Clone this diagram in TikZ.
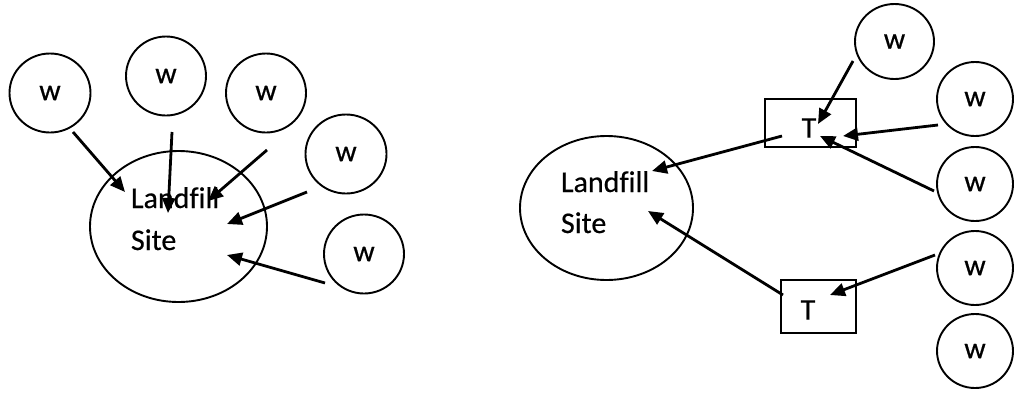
\documentclass[tikz,border=0pt]{standalone}
\usepackage{fontspec}
\setmainfont{Carlito}[Ligatures=NoCommon, FakeBold=0.5]
\usetikzlibrary{shapes.geometric,arrows.meta,calc}

\tikzset{
  every node/.style={font=\fontsize{30}{36}\selectfont, inner sep=0pt, outer sep=0pt},
  wcircle/.style={draw, ellipse, line width=1.9pt},
  siteoval/.style={draw, ellipse, line width=1.9pt},
  tbox/.style={draw, rectangle, line width=1.9pt},
  lbl/.style={anchor=base west},
  flow/.style={line width=2.8pt, -{Triangle[length=15pt,width=13pt]}}
}

\begin{document}
\begin{tikzpicture}[x=1pt, y=-1pt]
\useasboundingbox (0,0) rectangle (1014,394);

% ---- direct delivery: every source goes straight to the landfill ----
\node[siteoval, minimum width=177pt, minimum height=151pt] (siteA) at (178.5,226.5) {};
\node[lbl] (siteAl1) at (131,208) {Landfill};
\node[lbl] (siteAl2) at (131,250) {Site};

\node[wcircle, minimum width=81pt, minimum height=79pt] (wa1) at (50,93) {w};
\node[wcircle, minimum width=80pt, minimum height=79pt] (wa2) at (166,76) {w};
\node[wcircle, minimum width=80pt, minimum height=79pt] (wa3) at (266,93) {w};
\node[wcircle, minimum width=81pt, minimum height=79pt] (wa4) at (346,154) {w};
\node[wcircle, minimum width=80pt, minimum height=79pt] (wa5) at (364,254) {w};

\coordinate (pa1s) at ($(wa1)+(23,39)$);   \coordinate (pa1e) at ($(siteA)+(-53.5,-34.5)$);
\coordinate (pa2s) at ($(wa2)+(6,56)$);    \coordinate (pa2e) at ($(siteA)+(-10.5,-13.5)$);
\coordinate (pa3s) at ($(wa3)+(1,57)$);    \coordinate (pa3e) at ($(siteA)+(29.5,-25.5)$);
\coordinate (pa4s) at ($(wa4)+(-39,38)$);  \coordinate (pa4e) at ($(siteA)+(48.5,-2.5)$);
\coordinate (pa5s) at ($(wa5)+(-39,29)$);  \coordinate (pa5e) at ($(siteA)+(48.5,28.5)$);

\draw[flow] (pa1s) -- (pa1e);
\draw[flow] (pa2s) -- (pa2e);
\draw[flow] (pa3s) -- (pa3e);
\draw[flow] (pa4s) -- (pa4e);
\draw[flow] (pa5s) -- (pa5e);

% ---- delivery through transfer stations ----
\node[siteoval, minimum width=173pt, minimum height=144pt] (siteB) at (606.5,208) {};
\node[lbl] (siteBl1) at (561,192) {Landfill};
\node[lbl] (siteBl2) at (561,233) {Site};

\node[tbox, minimum width=91pt, minimum height=48pt] (t1) at (810.5,123) {};
\node (t1l) at (809,128) {T};
\node[tbox, minimum width=75pt, minimum height=53pt] (t2) at (818.5,306.5) {};
\node (t2l) at (808,310) {T};

\node[wcircle, minimum width=79pt, minimum height=75pt] (wb1) at (894.5,41.5) {w};
\node[wcircle, minimum width=76pt, minimum height=74pt] (wb2) at (975,99) {w};
\node[wcircle, minimum width=76pt, minimum height=74pt] (wb3) at (975,184) {w};
\node[wcircle, minimum width=76pt, minimum height=74pt] (wb4) at (975,268) {w};
\node[wcircle, minimum width=76pt, minimum height=74pt] (wb5) at (975,351) {w};

\coordinate (pb1s) at ($(t1)+(-28.5,13)$);  \coordinate (pb1e) at ($(siteB)+(45.5,-37)$);
\coordinate (pb2s) at ($(t2)+(-35.5,-11.5)$); \coordinate (pb2e) at ($(siteB)+(41.5,3)$);
\coordinate (pb3s) at ($(wb1)+(-41.5,19.5)$); \coordinate (pb3e) at ($(t1)+(7.5,1)$);
\coordinate (pb4s) at ($(wb2)+(-37,26)$);   \coordinate (pb4e) at ($(t1)+(32.5,13)$);
\coordinate (pb5s) at ($(wb3)+(-41,7)$);    \coordinate (pb5e) at ($(t1)+(9.5,13)$);
\coordinate (pb6s) at ($(wb4)+(-40,-13)$);  \coordinate (pb6e) at ($(t2)+(11.5,-11.5)$);

\draw[flow] (pb1s) -- (pb1e);
\draw[flow] (pb2s) -- (pb2e);
\draw[flow] (pb3s) -- (pb3e);
\draw[flow] (pb4s) -- (pb4e);
\draw[flow] (pb5s) -- (pb5e);
\draw[flow] (pb6s) -- (pb6e);
\end{tikzpicture}
\end{document}
